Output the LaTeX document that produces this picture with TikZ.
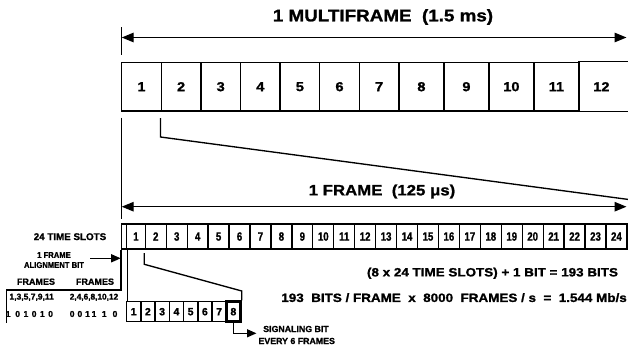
\documentclass[tikz,border=0pt]{standalone}
\usepackage{fontspec}
\setmainfont{Liberation Sans}[BoldFeatures={FakeBold=1.2}]
\newfontfamily\widef{Liberation Sans}[FakeStretch=1.12, BoldFeatures={FakeBold=1.2}]
\newfontfamily\semic{Liberation Sans}[FakeStretch=0.9, BoldFeatures={FakeBold=1.2}]
\newfontfamily\condf{Liberation Sans}[FakeStretch=0.8, BoldFeatures={FakeBold=1.2}]
\usetikzlibrary{arrows.meta}
\begin{document}
\begin{tikzpicture}[x=1pt,y=-1pt,
  ln/.style={line width=1.35pt},
  dtip/.style={{Triangle[length=12pt,width=9.5pt]}-{Triangle[length=12pt,width=9.5pt]}},
  stip/.style={-{Triangle[length=9.5pt,width=8pt]}},
  mbox/.style={draw, line width=1.4pt, minimum height=48.5pt, inner sep=0pt, font=\widef\bfseries\fontsize{13}{13}\selectfont},
  sbox/.style={draw, line width=1.3pt, minimum height=25pt, minimum width=20.94pt, inner sep=0pt, font=\condf\bfseries\fontsize{12}{12}\selectfont},
  bbox/.style={draw, line width=1.5pt, minimum height=20pt, minimum width=14.25pt, inner sep=0pt, font=\bfseries\fontsize{10.5}{10.5}\selectfont},
  lbl/.style={inner sep=0pt, font=\bfseries}
]
\useasboundingbox (0,0) rectangle (628,348);
\clip (0,0) rectangle (628,348);

% ---------- multiframe ----------
\node[lbl, font=\widef\bfseries\fontsize{16.8}{17}\selectfont] (mlabel) at (383,17) {1 MULTIFRAME\ \ (1.5 ms)};
\coordinate (mA) at (121.7,37.5);
\coordinate (mB) at (626.5,37.5);
\coordinate (mT1) at (121.7,27);
\coordinate (mT2) at (121.7,55);
\draw[ln] (mT1) -- (mT2);
\draw[ln, dtip] (mA) -- (mB);

\foreach \i in {1,...,7}
  \node[mbox, minimum width=39.6pt] (m\i) at ({121.7+(\i-0.5)*39.6}, 86.7) {\i};
\foreach \i in {8,...,11}
  \node[mbox, minimum width=45pt] (m\i) at ({398.9+(\i-7.5)*45}, 86.7) {\i};
\node[mbox, draw=none, minimum width=45pt] (m12) at (601.4,86.7) {12};
\draw[line width=1.4pt] (m12.north west) -- ++(60,0);
\draw[line width=1.4pt] (m12.south west) -- ++(60,0);

% ---------- frame expansion ----------
\coordinate (f0) at (121.7,117.5);
\coordinate (f1) at (121.7,219);
\draw[ln] (f0) -- (f1);
\coordinate (g0) at (160.5,118);
\coordinate (g1) at (160.5,137);
\coordinate (g2) at (640,201);
\draw[ln] (g0) -- (g1) -- (g2);

\node[lbl, font=\widef\bfseries\fontsize{15}{15}\selectfont] (flabel) at (382,191.5) {1 FRAME\ \ (125 μs)};
\coordinate (fA) at (121.7,206.7);
\coordinate (fB) at (626.5,206.7);
\draw[ln, dtip] (fA) -- (fB);

% ---------- frame row ----------
\node[draw, ln, minimum width=5.2pt, minimum height=25pt, inner sep=0pt] (fb) at (124.1,236.5) {};
\node[sbox, minimum width=18.6pt] (s1) at (136,236.5) {1};
\foreach \i in {2,...,24}
  \node[sbox] (s\i) at ({145.3+(\i-1.5)*20.94}, 236.5) {\i};

\node[lbl, font=\bfseries\fontsize{9.8}{10}\selectfont] (ts) at (70,236.7) {24 TIME SLOTS};

% ---------- byte ----------
\foreach \i in {1,...,7}
  \node[bbox] (b\i) at ({126.5+(\i-0.5)*14.25}, 311.7) {\i};
\node[bbox, line width=2.5pt] (b8) at ({126.5+7.5*14.25}, 311.7) {8};

% alignment-bit bracket
\coordinate (o1) at (6.5,290);
\coordinate (o2) at (6.5,323);
\draw[ln] (fb.south west) -- (fb.south west |- o1) -- (o1) -- (o2);
\draw[ln] (fb.south east) -- (fb.south east |- b1.north west);

% slot 1 -> 8 bits
\coordinate (h0) at (144.3,253);
\coordinate (h1) at (144.3,264.3);
\coordinate (h2) at (b8.north east |- 0,291);
\draw[ln] (h0) -- (h1) -- (h2) -- (b8.north east);

% alignment arrow
\node[lbl, font=\semic\bfseries\fontsize{8.5}{9}\selectfont] (al1) at (54,255) {1 FRAME};
\node[lbl, font=\semic\bfseries\fontsize{8.5}{9}\selectfont] (al2) at (54,265) {ALIGNMENT BIT};
\coordinate (aA) at (90,258.3);
\coordinate (aB) at (120.7,258.3);
\draw[ln, stip] (aA) -- (aB);

% frames patterns
\node[lbl, font=\bfseries\fontsize{9}{9}\selectfont] (fr1) at (36,281.7) {FRAMES};
\node[lbl, font=\bfseries\fontsize{9}{9}\selectfont] (fr2) at (95,281.7) {FRAMES};
\node[lbl, font=\bfseries\fontsize{8.5}{9}\selectfont] (od) at (31.7,297.3) {1,3,5,7,9,11};
\node[lbl, font=\bfseries\fontsize{8.3}{9}\selectfont] (ev) at (94,297.3) {2,4,6,8,10,12};
\node[lbl, anchor=west, font=\bfseries\fontsize{8.5}{9}\selectfont] (odb) at (5.6,314) {1\hspace{4.8pt}0\hspace{3.5pt}1\hspace{3.5pt}0\hspace{3.5pt}1\hspace{3.5pt}0};
\node[lbl, anchor=west, font=\bfseries\fontsize{8.5}{9}\selectfont] (evb) at (69.6,314) {0\hspace{3pt}0\hspace{2.9pt}1\hspace{1.8pt}1\hspace{5.5pt}1\hspace{6pt}0};

% signaling bit
\coordinate (sg1) at (b8.south |- 0,333.3);
\coordinate (sg2) at (256.5,333.3);
\draw[ln, stip] (b8.south) -- (sg1) -- (sg2);
\node[lbl, font=\bfseries\fontsize{8.8}{9}\selectfont] (sig1) at (296,329) {SIGNALING BIT};
\node[lbl, font=\bfseries\fontsize{8.8}{9}\selectfont] (sig2) at (296.7,341) {EVERY 6 FRAMES};

% formulas
\node[lbl, font=\widef\bfseries\fontsize{12}{12}\selectfont] (eq1) at (492.5,273.3) {(8 x 24 TIME SLOTS) + 1 BIT = 193 BITS};
\node[lbl, anchor=east, font=\widef\bfseries\fontsize{12}{12}\selectfont] (eq2) at (627,297.7) {193\ \ BITS / FRAME\ \ x\ \ 8000\ \ FRAMES / s\ \ =\ \ 1.544 Mb/s};
\end{tikzpicture}
\end{document}
